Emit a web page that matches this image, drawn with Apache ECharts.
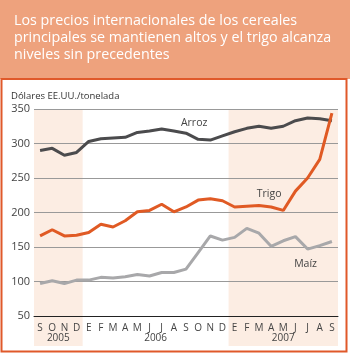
<!DOCTYPE html>
<html>
<head>
<meta charset="utf-8">
<script src="https://cdn.jsdelivr.net/npm/echarts@6/dist/echarts.min.js"></script>
<style>
html, body { margin: 0; padding: 0; background: #fff; }
#main { width: 350px; height: 354px; }
</style>
</head>
<body>
<div id="main"></div>
<script>
var months = ['S','O','N','D','E','F','M','A','M','J','J','A','S','O','N','D','E','F','M','A','M','J','J','A','S'];
// year label and [first, last] month index, shaded or not
var years = [
  { name: '2005', from: 0, to: 3, shade: true },
  { name: '2006', from: 4, to: 15, shade: false },
  { name: '2007', from: 16, to: 24, shade: true }
];
var arroz = [290, 293, 283, 287, 303, 307, 308, 309, 316, 318, 321, 318, 315, 306, 305, 311, 317, 322, 325, 322, 325, 333, 337, 336, 333];
var trigo = [166, 175, 166, 167, 171, 183, 179, 188, 201, 203, 212, 201, 208, 218, 220, 217, 208, 209, 210, 208, 203, 231, 250, 277, 344];
var maiz  = [97, 101, 97, 102, 102, 106, 105, 107, 110, 108, 113, 113, 118, 142, 166, 160, 164, 177, 170, 151, 159, 165, 147, 152, 158];

var myChart = echarts.init(document.getElementById('main'));

function withLabel(arr, idx, text, pos, off) {
  return arr.map(function (v, i) {
    if (i !== idx) return v;
    return {
      value: v,
      label: {
        show: true, formatter: text, position: pos, offset: off,
        color: '#444', fontSize: 10.5, fontFamily: 'Open Sans'
      }
    };
  });
}

var option = {
  animation: false,
  grid: { left: 34, right: 12, top: 109, bottom: 38 },
  graphic: [
    { type: 'rect', shape: { x: 0, y: 0, width: 350, height: 79 }, style: { fill: '#EEA27D' }, z: -10 },
    { type: 'rect', shape: { x: 1.5, y: 79, width: 345, height: 272.5 },
      style: { fill: '#fff', stroke: '#E0592A', lineWidth: 2 }, z: -10 },
    { type: 'text', left: 14, top: 12,
      style: { text: 'Los precios internacionales de los cereales\nprincipales se mantienen altos y el trigo alcanza\nniveles sin precedentes',
        fill: '#fff', font: '14.3px "Open Sans"', lineHeight: 17 } },
    { type: 'text', left: 11, top: 91,
      style: { text: 'Dólares EE.UU./tonelada', fill: '#333', font: '9.5px "Open Sans"' } }
  ],
  xAxis: {
    type: 'category',
    data: months,
    boundaryGap: true,
    axisLine: { lineStyle: { color: '#222', width: 1 } },
    axisTick: { inside: true, alignWithLabel: true, length: 4, lineStyle: { color: '#222', width: 1.2 } },
    axisLabel: { color: '#444', fontSize: 10, fontFamily: 'Open Sans', margin: 7, interval: 0 },
    splitLine: { show: false }
  },
  yAxis: {
    type: 'value',
    min: 50, max: 350, interval: 50,
    axisLine: { show: false },
    axisTick: { show: false },
    axisLabel: { color: '#444', fontSize: 11, fontFamily: 'Open Sans', margin: 4 },
    splitLine: { lineStyle: { color: '#999', width: 1 } }
  },
  series: [
    { name: 'Arroz', type: 'line', data: withLabel(arroz, 13, 'Arroz', 'top', [-4, -6]),
      symbol: 'circle', symbolSize: 0.1, showAllSymbol: true,
      lineStyle: { color: '#4B4B4D', width: 3 }, itemStyle: { color: '#4B4B4D' }, z: 3 },
    { name: 'Trigo', type: 'line', data: withLabel(trigo, 19, 'Trigo', 'top', [-2, -2]),
      symbol: 'circle', symbolSize: 0.1, showAllSymbol: true,
      lineStyle: { color: '#E05A24', width: 3 }, itemStyle: { color: '#E05A24' }, z: 4 },
    { name: 'Maíz', type: 'line', data: withLabel(maiz, 22, 'Maíz', 'bottom', [-2, 4]),
      symbol: 'circle', symbolSize: 0.1, showAllSymbol: true,
      lineStyle: { color: '#A8A8AA', width: 3 }, itemStyle: { color: '#A8A8AA' }, z: 2 }
  ]
};
myChart.setOption(option);

// shaded year bands and year labels, placed through the category axis
var x0 = myChart.convertToPixel({ xAxisIndex: 0 }, 0);
var x1 = myChart.convertToPixel({ xAxisIndex: 0 }, 1);
var step = x1 - x0;
var yTop = myChart.convertToPixel({ yAxisIndex: 0 }, 350);
var extra = [];
years.forEach(function (yr) {
  var a = myChart.convertToPixel({ xAxisIndex: 0 }, yr.from) - step / 2;
  var b = myChart.convertToPixel({ xAxisIndex: 0 }, yr.to) + step / 2;
  if (yr.shade) {
    extra.push({ type: 'rect', shape: { x: a, y: yTop, width: b - a, height: 346 - yTop },
      style: { fill: '#FCEDE3' }, z: -5, silent: true });
  }
  extra.push({ type: 'text', x: (a + b) / 2, y: 333,
    style: { text: yr.name, fill: '#444', font: '10px "Open Sans"', align: 'center' } });
});
myChart.setOption({ graphic: option.graphic.concat(extra) });
</script>
</body>
</html>
